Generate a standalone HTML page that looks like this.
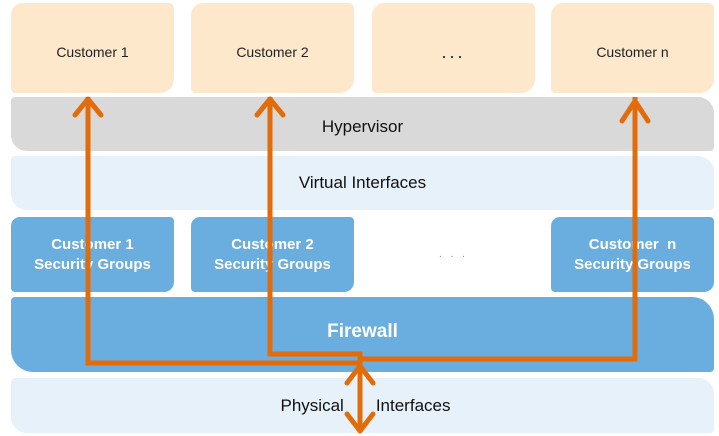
<!DOCTYPE html>
<html><head><style>
body{margin:0;width:719px;height:436px;background:#fff;position:relative;overflow:hidden;font-family:"Liberation Sans",Arial,sans-serif}
.b{position:absolute;display:flex;align-items:center;justify-content:center;text-align:center;box-sizing:border-box}
.c{background:#fde8cb;color:#222;font-size:14px;top:3px;height:90px;width:163px;border-radius:12px 5px 14px 4px;padding-top:8px}
.h{background:#d9d9d9;left:11px;width:703px;top:97px;height:54px;border-radius:4px 16px 4px 16px;font-size:17px;color:#111;padding-top:5px}
.v{background:#e6f1f9;left:11px;width:703px;top:156px;height:54px;border-radius:4px 16px 4px 16px;font-size:17px;color:#111}
.s{background:#6aaddf;color:#fff;font-weight:bold;font-size:15px;line-height:20px;top:217px;height:75px;width:163px;border-radius:9px 4px 10px 4px}
.f{background:#6aaddf;color:#fff;font-weight:bold;font-size:19px;left:11px;width:703px;top:297px;height:75px;border-radius:4px 22px 4px 22px;padding-bottom:6px}
.p{background:#e6f1f9;left:11px;width:703px;top:378px;height:55px;border-radius:4px 16px 4px 16px;font-size:17px;color:#111;padding-left:6px}
</style></head><body>
<div class="b c" style="left:11px">Customer 1</div>
<div class="b c" style="left:191px">Customer 2</div>
<div class="b c" style="left:372px;font-size:18px;letter-spacing:3px">...</div>
<div class="b c" style="left:551px">Customer n</div>
<div class="b h">Hypervisor</div>
<div class="b v">Virtual Interfaces</div>
<div class="b s" style="left:11px">Customer 1<br>Security Groups</div>
<div class="b s" style="left:191px">Customer 2<br>Security Groups</div>
<div class="b" style="left:372px;width:163px;top:217px;height:75px;color:#888;font-size:10px;letter-spacing:3px">. . .</div>
<div class="b s" style="left:551px">Customer&nbsp; n<br>Security Groups</div>
<div class="b f">Firewall</div>
<div class="b p"><span>Physical</span><span style="display:inline-block;width:32px"></span><span>Interfaces</span></div>
<svg width="719" height="436" style="position:absolute;left:0;top:0" fill="none" stroke="#e36c0a" stroke-width="5">
<polyline points="88,97 88,363 362,363"/>
<polyline points="270,97 270,354 362,354"/>
<polyline points="635,97 635,359 360,359"/>
<line x1="360" y1="352" x2="360" y2="430"/>
<g stroke-linecap="round" stroke-linejoin="round" stroke-width="5">
<polyline points="75,115 88,99 101,115"/>
<polyline points="257,115 270,99 283,115"/>
<polyline points="622,121 635,101 648,121"/>
<polyline points="347,383 360,366 373,383"/>
<polyline points="347,414 360,431 373,414"/>
</g>
</svg>
</body></html>
